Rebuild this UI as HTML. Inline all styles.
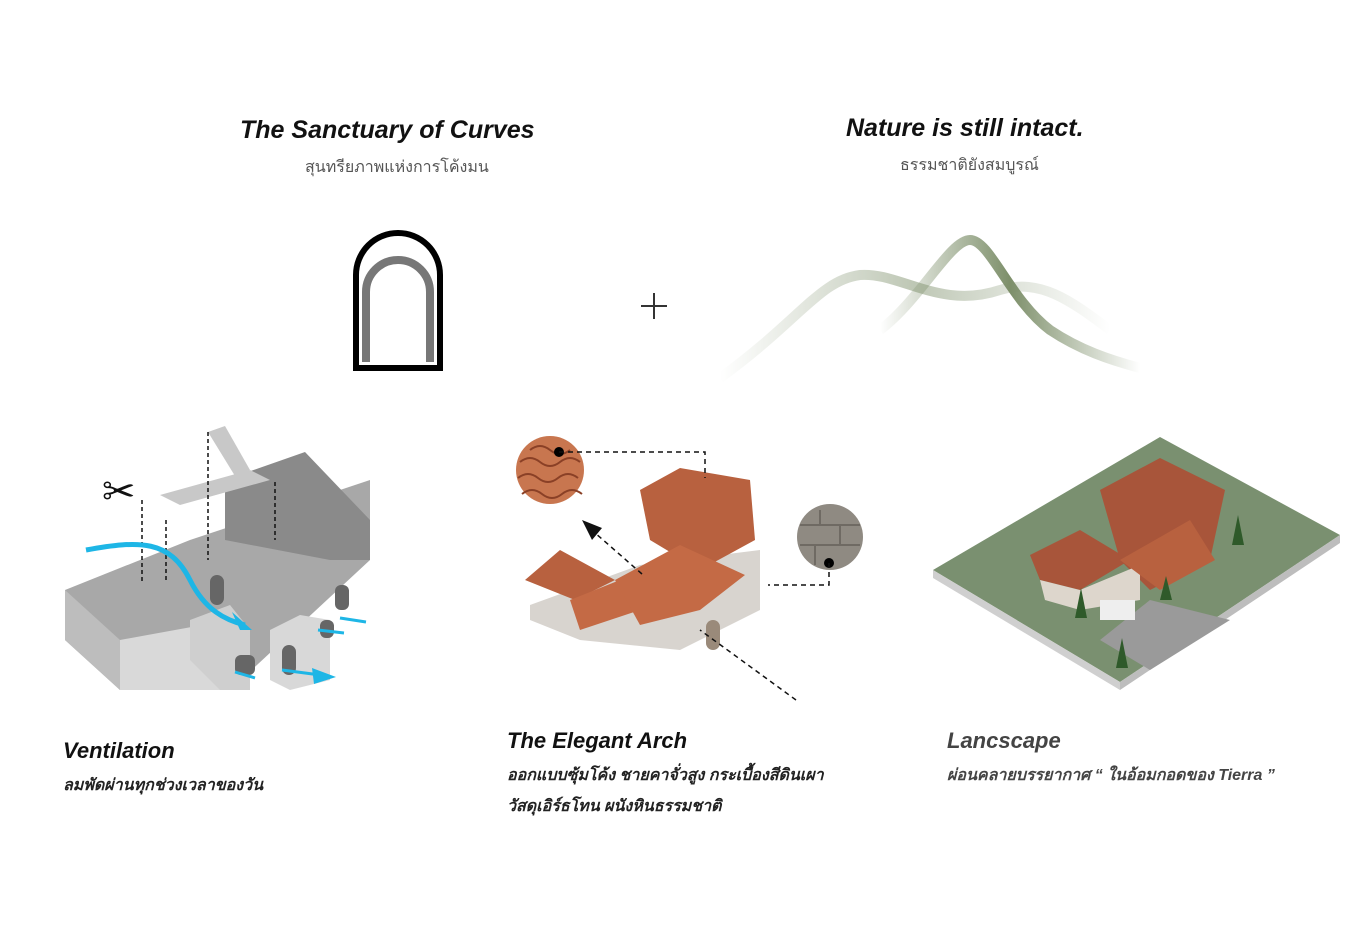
<!DOCTYPE html>
<html><head><meta charset="utf-8"><style>
body{margin:0;background:#fff;width:1365px;height:936px;overflow:hidden;position:relative;font-family:"Liberation Sans","DejaVu Sans",sans-serif}
.t{position:absolute;white-space:nowrap}
.h{font-style:italic;font-weight:bold;font-size:25px;color:#111}
.s{font-size:16px;color:#555}
.c{font-style:italic;font-weight:bold;font-size:22px;color:#111}
.d{font-style:italic;font-size:16px;color:#222;font-weight:bold}
</style></head><body>
<div class="t h" style="left:240px;top:116px">The Sanctuary of Curves</div>
<div class="t s" style="left:305px;top:155px">สุนทรียภาพแห่งการโค้งมน</div>
<div class="t h" style="left:846px;top:114px">Nature is still intact.</div>
<div class="t s" style="left:900px;top:153px">ธรรมชาติยังสมบูรณ์</div>
<div class="t c" style="left:63px;top:738px">Ventilation</div>
<div class="t d" style="left:63px;top:773px">ลมพัดผ่านทุกช่วงเวลาของวัน</div>
<div class="t c" style="left:507px;top:728px">The Elegant Arch</div>
<div class="t d" style="left:507px;top:763px">ออกแบบซุ้มโค้ง ชายคาจั่วสูง กระเบื้องสีดินเผา</div>
<div class="t d" style="left:507px;top:794px">วัสดุเอิร์ธโทน ผนังหินธรรมชาติ</div>
<div class="t c" style="left:947px;top:728px;color:#444">Lancscape</div>
<div class="t d" style="left:947px;top:763px;color:#444">ผ่อนคลายบรรยากาศ “ ในอ้อมกอดของ Tierra ”</div>
<svg width="1365" height="936" style="position:absolute;left:0;top:0">
<defs><linearGradient id="m" x1="0" x2="1"><stop offset="0" stop-color="#7d8f6a" stop-opacity="0"/><stop offset=".5" stop-color="#7d8f6a"/><stop offset="1" stop-color="#7d8f6a" stop-opacity="0"/></linearGradient></defs>
<path d="M356 368V275a42 42 0 0 1 84 0V368Z" fill="none" stroke="#000" stroke-width="6"/>
<path d="M366 362V292a32 32 0 0 1 64 0V362" fill="none" stroke="#777" stroke-width="8"/>
<path d="M641 306h26M654 293v26" stroke="#333" stroke-width="2"/>
<path d="M720 378C800 320 820 280 860 275C900 272 940 310 1000 290C1040 278 1070 300 1110 330" fill="none" stroke="url(#m)" stroke-width="10" opacity=".5"/>
<path d="M880 330C920 300 950 240 970 240C990 240 1010 300 1050 330C1080 350 1110 360 1140 368" fill="none" stroke="url(#m)" stroke-width="10"/>
<g>
<polygon points="65,590 190,540 370,480 370,560 230,690 120,690 65,640" fill="#a8a8a8"/>
<polygon points="65,590 65,640 120,690 120,640" fill="#bdbdbd"/>
<polygon points="120,640 230,620 230,690 120,690" fill="#d9d9d9"/>
<polygon points="225,480 305,452 370,520 370,560 330,560 225,540" fill="#8a8a8a"/>
<polygon points="160,495 250,470 270,480 180,505" fill="#c8c8c8"/>
<polygon points="208,432 225,426 250,470 235,476" fill="#c8c8c8"/>
<polygon points="190,620 230,605 250,630 250,690 220,690 190,660" fill="#cfcfcf"/>
<polygon points="270,630 300,615 330,620 330,680 290,690 270,680" fill="#d8d8d8"/>
<rect x="282" y="645" width="14" height="30" rx="7" fill="#666"/>
<rect x="210" y="575" width="14" height="30" rx="7" fill="#666"/>
<rect x="235" y="655" width="20" height="20" rx="6" fill="#666"/>
<rect x="320" y="620" width="14" height="18" rx="6" fill="#666"/>
<rect x="335" y="585" width="14" height="25" rx="6" fill="#666"/>
<path d="M142 500V582M166 520V582M208 432V560M275 482V540" stroke="#111" stroke-dasharray="4 3" stroke-width="1.5"/>
<path d="M86 550C140 540 170 540 190 580C205 610 225 620 245 625" fill="none" stroke="#1eb6e6" stroke-width="5"/>
<polygon points="252,630 232,612 240,630" fill="#1eb6e6"/>
<path d="M282 670L328 676M318 630L344 633M340 618L366 622M235 672L255 678" stroke="#1eb6e6" stroke-width="3"/>
<polygon points="336,677 312,668 314,684" fill="#1eb6e6"/>
<text x="102" y="505" font-size="40" fill="#111">✂</text>
</g>
<g>
<polygon points="530,605 640,565 760,550 760,610 680,650 580,640 530,620" fill="#d8d4cf"/>
<polygon points="525,580 560,550 615,580 575,600" fill="#b8613f"/>
<polygon points="570,600 620,580 640,610 580,630" fill="#c46a45"/>
<polygon points="640,490 680,468 750,480 755,540 700,570 650,540" fill="#b8613f"/>
<polygon points="615,580 680,545 745,575 700,610 640,625" fill="#c46a45"/>
<rect x="706" y="620" width="14" height="30" rx="7" fill="#9a8a7a"/>
<circle cx="550" cy="470" r="34" fill="#c8764f"/>
<path d="M520 462q10-8 20 0t20 0 20 0M518 478q10-8 20 0t20 0 20 0M522 494q10-8 20 0t20 0 20 0M530 450q10-8 20 0t20 0" stroke="#8a4026" fill="none" stroke-width="2"/>
<circle cx="830" cy="537" r="33" fill="#8f8a82"/>
<path d="M800 525h60M800 545h60M820 510v15M840 525v20M815 545v20" stroke="#6f6a63" stroke-width="2"/>
<circle cx="559" cy="452" r="5" fill="#000"/><circle cx="829" cy="563" r="5" fill="#000"/>
<path d="M559 452H705V478M829 563V585H768M796 700L700 630M642 574L594 532" stroke="#111" stroke-dasharray="5 4" stroke-width="1.5" fill="none"/>
<polygon points="582,520 602,528 592,540" fill="#111"/>
</g>
<g>
<polygon points="933,570 1160,437 1340,535 1120,682" fill="#7a9070"/>
<polygon points="933,570 1120,682 1120,690 933,578" fill="#cfcfcf"/>
<polygon points="1120,682 1340,535 1340,543 1120,690" fill="#bdbdbd"/>
<polygon points="1100,640 1150,600 1230,620 1150,670" fill="#9a9a9a"/>
<polygon points="1030,555 1080,530 1130,560 1080,590 1040,580" fill="#a8553a"/>
<polygon points="1100,490 1160,458 1225,490 1210,560 1150,590 1120,560" fill="#a8553a"/>
<polygon points="1040,580 1080,590 1140,565 1140,600 1080,610 1045,600" fill="#ddd6cc"/>
<polygon points="1120,560 1190,520 1215,560 1160,590" fill="#b8613f"/>
<rect x="1100" y="600" width="35" height="20" fill="#eee"/>
<path d="M1075 618l6-30 6 30ZM1116 668l6-30 6 30ZM1232 545l6-30 6 30ZM1160 600l6-24 6 24Z" fill="#2f5a2a"/>
</g>
</svg>
</body></html>
